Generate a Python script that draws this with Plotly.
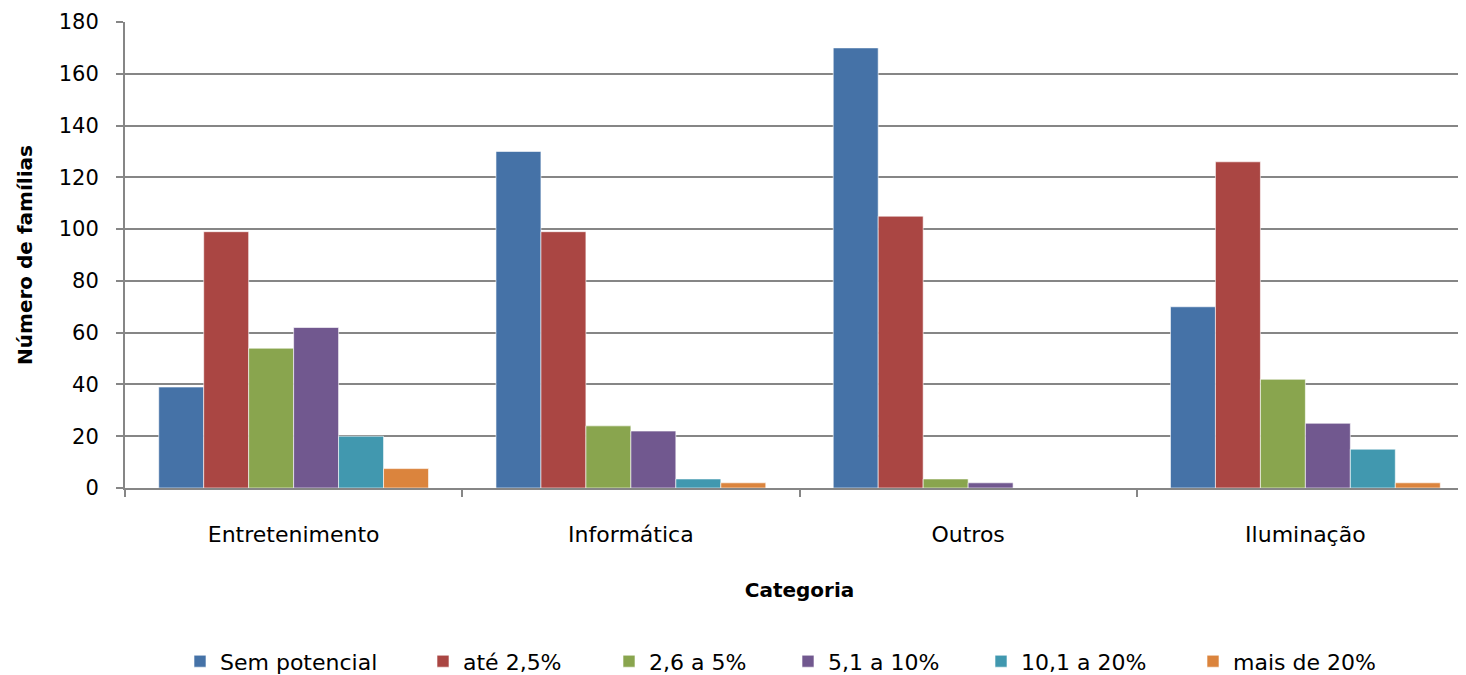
import plotly.graph_objects as go

categories = ["Entretenimento", "Informática", "Outros", "Iluminação"]
series_names = ["Sem potencial", "até 2,5%", "2,6 a 5%", "5,1 a 10%", "10,1 a 20%", "mais de 20%"]
sem_potencial = [39, 130, 170, 70]
ate_2_5 = [99, 99, 105, 126]
de_2_6_a_5 = [54, 24, 3.5, 42]
de_5_1_a_10 = [62, 22, 2, 25]
de_10_1_a_20 = [20, 3.5, 0, 15]
mais_de_20 = [7.5, 2, 0, 2]
series_values = [sem_potencial, ate_2_5, de_2_6_a_5, de_5_1_a_10, de_10_1_a_20, mais_de_20]
colors = ["#4572A7", "#AA4643", "#89A54E", "#71588F", "#4198AF", "#DB843D"]

FONT = "DejaVu Sans"
W, H = 1466, 675
OFF = 8  # page body margin
# legend text start positions (px) in the reference
legend_text_x = [220, 463, 649, 828, 1021, 1233]

fig = go.Figure()
layout_legends = {}
for i, (name, vals, col) in enumerate(zip(series_names, series_values, colors)):
    lname = "legend" if i == 0 else f"legend{i+1}"
    fig.add_trace(go.Bar(
        name=name, x=categories, y=vals, legend=lname,
        marker=dict(color=col, line=dict(color="rgba(255,255,255,0.6)", width=1)),
    ))
    layout_legends[lname] = dict(
        orientation="h", xref="container", yref="container",
        x=(legend_text_x[i] - OFF - 40) / W, xanchor="left",
        y=0.032, yanchor="middle",
        font=dict(family=FONT, size=22, color="black"),
        bgcolor="rgba(0,0,0,0)",
    )

fig.update_layout(
    width=W, height=H,
    barmode="group", bargap=0.2, bargroupgap=0,
    plot_bgcolor="white", paper_bgcolor="white",
    margin=dict(l=125 - OFF, r=0, t=22 - OFF, b=H - (488 - OFF), autoexpand=False),
    font=dict(family=FONT, size=20, color="black"),
    showlegend=True,
    **layout_legends,
)
fig.update_xaxes(
    automargin=False,
    showline=True, linecolor="#868686", linewidth=2,
    ticks="outside", tickson="boundaries", ticklen=7, tickcolor="#868686", tickwidth=2,
    ticklabelstandoff=26,
    tickfont=dict(family=FONT, size=22, color="black"),
    title=dict(text="<b>Categoria</b>", font=dict(family=FONT, size=20, color="black"), standoff=37),
)
fig.update_yaxes(
    automargin=False,
    range=[0, 180], dtick=20,
    showline=True, linecolor="#868686", linewidth=2,
    showgrid=True, gridcolor="#868686", gridwidth=1.5,
    ticks="outside", ticklen=7, tickcolor="#868686", tickwidth=2,
    ticklabelstandoff=13,
    tickfont=dict(family=FONT, size=21, color="black"),
    title=dict(text="<b>Número de famílias</b>", font=dict(family=FONT, size=20, color="black"), standoff=21),
    zeroline=False,
)

fig.write_html("out.html")
